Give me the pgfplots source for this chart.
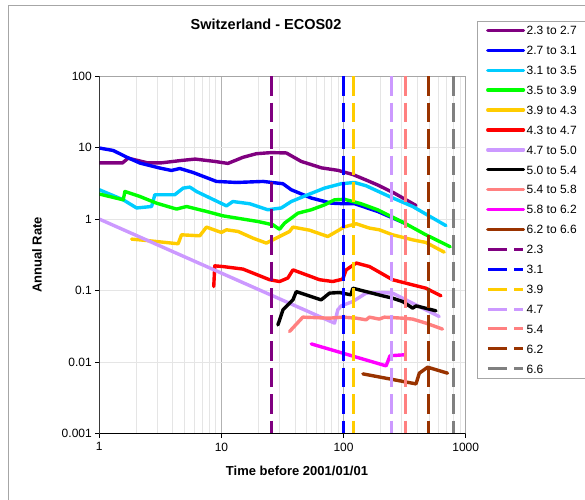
\documentclass[border=0pt]{standalone}
\usepackage{fontspec}
\setmainfont{Liberation Sans}
\usepackage{pgfplots}
\pgfplotsset{compat=1.18}
\definecolor{cPur}{HTML}{800080}
\definecolor{cBlu}{HTML}{0000FF}
\definecolor{cCya}{HTML}{00CCFF}
\definecolor{cGrn}{HTML}{00FF00}
\definecolor{cYel}{HTML}{FFCC00}
\definecolor{cRed}{HTML}{FF0000}
\definecolor{cLav}{HTML}{CC99FF}
\definecolor{cBlk}{HTML}{000000}
\definecolor{cSal}{HTML}{FF8080}
\definecolor{cMag}{HTML}{FF00FF}
\definecolor{cBrn}{HTML}{993300}
\definecolor{cGry}{HTML}{808080}
\begin{document}
\begin{tikzpicture}
\path[use as bounding box] (-99.3pt,-65.3pt) rectangle (485.7pt,433.7pt);
\fill[white] (-99.3pt,-65.3pt) rectangle (485.7pt,433.7pt);
\draw[gray!70, line width=0.8pt] (-91.3pt,-70pt) -- (-91.3pt,428.7pt) -- (490pt,428.7pt);
\begin{axis}[
  scale only axis, width=366.4pt, height=357.7pt,
  xmode=log, ymode=log,
  xmin=1, xmax=1000, ymin=0.001, ymax=100,
  xtick={1,10,100,1000}, xticklabels={1,10,100,1000},
  ytick={0.001,0.01,0.1,1,10,100}, yticklabels={0.001,0.01,0.1,1,10,100},
  minor xtick={2,3,4,5,6,7,8,9,20,30,40,50,60,70,80,90,200,300,400,500,600,700,800,900},
  minor ytick={},
  tick pos=left, tick align=outside,
  major tick length=4pt, minor tick length=0pt,
  tick style={black, line width=0.8pt},
  xmajorgrids, xminorgrids, ymajorgrids,
  major x grid style={gray!60, line width=0.8pt},
  minor x grid style={gray!20, line width=0.8pt},
  major y grid style={gray!20, line width=0.8pt},
  axis line style={gray!70, line width=0.8pt},
  ticklabel style={font=\fontsize{12}{14}\selectfont},
  xticklabel style={yshift=-1.5pt},
  title={Switzerland - ECOS02},
  title style={font=\fontsize{14.5}{17}\selectfont\bfseries, at={(axis description cs:0.455,1.1286)}, anchor=center},
  xlabel={Time before 2001/01/01},
  xlabel style={font=\fontsize{13}{15}\selectfont\bfseries, at={(axis description cs:0.5396,-0.104)}, anchor=center},
  ylabel={Annual Rate},
  ylabel style={font=\fontsize{13}{15}\selectfont\bfseries, at={(axis description cs:-0.170,0.5)}, anchor=center},
  sol/.style={line width=3.4pt, line join=round, line cap=round},
  dsh/.style={line width=3pt, dash pattern=on 19.5pt off 7pt},
  legend image code/.code={\draw[#1] (0pt,0pt) -- (35.7pt,0pt);},
  legend cell align=left,
  legend style={at={(axis description cs:1.030,1.1546)}, anchor=north west,
    draw=gray!70, line width=0.8pt, fill=white,
    font=\fontsize{12}{14}\selectfont,
    inner xsep=9pt, inner ysep=5pt,
    row sep=11.3pt, column sep=1.5pt,
    nodes={inner sep=0pt, text height=8.6pt, text depth=0pt}},
]
\addplot[cPur, sol] coordinates {(1,6.1) (1.55,6.1) (1.72,7.1) (2.5,6.1) (3.2,6.1) (4.7,6.6) (6.1,6.9) (8.8,6.4) (11.3,6.0) (15,7.3) (19.3,8.2) (25.6,8.5) (34,8.4) (45,6.4) (66,5.2) (90,4.8) (119,4.2) (148,3.6) (190,3.0) (261,2.3) (392,1.55)};
\addlegendentry{2.3 to 2.7}
\addplot[cBlu, sol] coordinates {(1,9.84) (1.30,9.1) (1.67,7.36) (2.15,6.07) (3.13,5.17) (3.9,4.78) (4.56,5.1) (5.86,4.48) (9.1,3.36) (13.3,3.25) (21.9,3.36) (31.9,3.12) (37.3,2.57) (54.4,1.97) (79.2,1.67) (100,1.64) (123,1.64) (190,1.28) (315,0.88)};
\addlegendentry{2.7 to 3.1}
\addplot[cCya, sol] coordinates {(1,2.57) (1.57,1.86) (2.02,1.43) (2.68,1.50) (2.85,2.19) (4.15,2.19) (4.86,2.71) (5.51,2.80) (6.25,2.43) (11.0,1.53) (12.4,1.76) (17.0,1.64) (24.0,1.35) (30.9,1.43) (37.3,1.76) (51.0,2.19) (69.8,2.71) (95.6,3.12) (123,3.25) (153,2.92) (237,2.07) (368,1.50) (689,0.81)};
\addlegendentry{3.1 to 3.5}
\addplot[cGrn, sol] coordinates {(1,2.24) (1.57,1.86) (1.62,2.43) (2.15,2.07) (2.94,1.67) (4.29,1.38) (5.18,1.50) (7.54,1.28) (10.3,1.11) (15.0,1.0) (19.9,0.925) (26.4,0.832) (29.9,0.72) (32.9,0.88) (37.3,1.03) (42.3,1.21) (54.4,1.35) (69.8,1.58) (84.3,1.86) (102,1.89) (139,1.64) (190,1.35) (315,0.88) (458,0.62) (747,0.41)};
\addlegendentry{3.5 to 3.9}
\addplot[cYel, sol] coordinates {(1.84,0.525) (2.44,0.502) (4.42,0.452) (4.71,0.603) (6.65,0.584) (7.54,0.773) (10.0,0.65) (11.0,0.709) (13.7,0.671) (18.1,0.542) (23.3,0.462) (28.1,0.542) (36.1,0.671) (38.5,0.773) (52.6,0.70) (74.3,0.571) (92.6,0.709) (100,0.773) (127,0.86) (163,0.748) (196,0.709) (252,0.603) (368,0.513) (473,0.471) (667,0.345)};
\addlegendentry{3.9 to 4.3}
\addplot[cRed, sol] coordinates {(8.65,0.114) (8.82,0.222) (10.3,0.217) (15.0,0.2) (24.8,0.142) (29.9,0.134) (35.0,0.150) (38.5,0.195) (63.6,0.142) (81.6,0.134) (98.5,0.145) (105,0.195) (127,0.243) (163,0.217) (252,0.142) (325,0.127) (473,0.108) (627,0.0846)};
\addlegendentry{4.3 to 4.7}
\addplot[cLav, sol] coordinates {(1,1.0) (84.3,0.0351) (89.7,0.0539) (95.6,0.0612) (119,0.0704) (153,0.0923) (209,0.094) (252,0.0923) (345,0.0704) (607,0.0434)};
\addlegendentry{4.7 to 5.0}
\addplot[cBlk, sol] coordinates {(29.0,0.0332) (31.9,0.0539) (35.0,0.0633) (38.5,0.0743) (41.0,0.097) (65.6,0.0743) (76.7,0.0923) (92.6,0.094) (115,0.0873) (119,0.108) (127,0.105) (209,0.0846) (252,0.0785) (305,0.0704) (368,0.0569) (392,0.0612) (571,0.0522)};
\addlegendentry{5.0 to 5.4}
\addplot[cSal, sol] coordinates {(36.1,0.0268) (46.4,0.0426) (76.7,0.0412) (98.5,0.0426) (127,0.0412) (153,0.0391) (163,0.0426) (196,0.040) (216,0.0426) (305,0.0412) (368,0.040) (473,0.0351) (646,0.029)};
\addlegendentry{5.4 to 5.8}
\addplot[cMag, sol] coordinates {(54.4,0.018) (223,0.00888) (240,0.0123) (320,0.0127)};
\addlegendentry{5.8 to 6.2}
\addplot[cBrn, sol] coordinates {(144,0.00686) (392,0.00497) (417,0.00702) (488,0.0085) (710,0.00702)};
\addlegendentry{6.2 to 6.6}
\addplot[cPur, dsh] coordinates {(25.9,100) (25.9,0.001)};
\addlegendentry{2.3}
\addplot[cBlu, dsh] coordinates {(100,100) (100,0.001)};
\addlegendentry{3.1}
\addplot[cYel, dsh] coordinates {(121,100) (121,0.001)};
\addlegendentry{3.9}
\addplot[cLav, dsh] coordinates {(249,100) (249,0.001)};
\addlegendentry{4.7}
\addplot[cSal, dsh] coordinates {(321,100) (321,0.001)};
\addlegendentry{5.4}
\addplot[cBrn, dsh] coordinates {(497,100) (497,0.001)};
\addlegendentry{6.2}
\addplot[cGry, dsh] coordinates {(795,100) (795,0.001)};
\addlegendentry{6.6}
\draw[black, line width=1.2pt] (rel axis cs:0,1) -- (rel axis cs:0,0) -- (rel axis cs:1,0);
\end{axis}
\end{tikzpicture}
\end{document}
